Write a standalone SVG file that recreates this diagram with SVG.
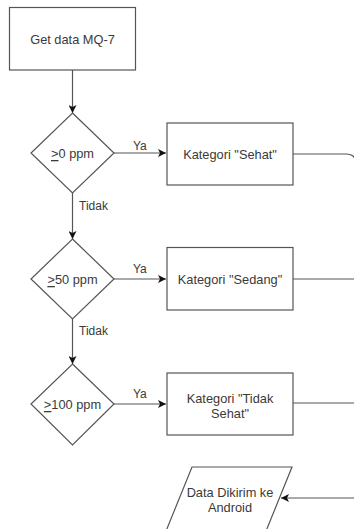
<svg xmlns="http://www.w3.org/2000/svg" width="354" height="529" viewBox="0 0 354 529">
<defs>
<style>
.shape{fill:#ffffff;stroke:#555555;stroke-width:1.2}
.conn{fill:none;stroke:#555555;stroke-width:1.2}
.t{font-family:"Liberation Sans",Arial,sans-serif;font-size:12.8px;fill:#3a3a3a;text-anchor:middle;dominant-baseline:central}
.lbl{font-family:"Liberation Sans",Arial,sans-serif;font-size:12px;fill:#3a3a3a;dominant-baseline:central}
.u{text-decoration:underline}
</style>
<marker id="arr" markerWidth="8" markerHeight="8" viewBox="0 0 8 8" refX="8" refY="4" orient="auto" markerUnits="userSpaceOnUse">
<path d="M0,0 L8,4 L0,8 L2,4 Z" fill="#111111"/>
</marker>
</defs>
<rect width="354" height="529" fill="#ffffff"/>
<g id="connectors">
<path class="conn" d="M72.5,70 V113" marker-end="url(#arr)"/>
<path class="conn" d="M114,153 H166" marker-end="url(#arr)"/>
<path class="conn" d="M72.5,193 V239" marker-end="url(#arr)"/>
<path class="conn" d="M114,279 H166" marker-end="url(#arr)"/>
<path class="conn" d="M72.5,319 V364" marker-end="url(#arr)"/>
<path class="conn" d="M114,404 H166" marker-end="url(#arr)"/>
<path class="conn" d="M293,154 H346 Q356,154 356,164 V498"/>
<path class="conn" d="M293,279 H356"/>
<path class="conn" d="M293,403 H356"/>
<path class="conn" d="M356,498 H281" marker-end="url(#arr)"/>
<text class="lbl" x="133" y="146">Ya</text>
<text class="lbl" x="79" y="206">Tidak</text>
<text class="lbl" x="133" y="269">Ya</text>
<text class="lbl" x="79" y="331">Tidak</text>
<text class="lbl" x="133" y="394">Ya</text>
</g>
<g id="start">
<rect class="shape" x="9.5" y="7.5" width="126" height="62.5"/>
<text class="t" x="72.5" y="39">Get data MQ-7</text>
</g>
<g id="d1">
<polygon class="shape" points="72.5,113 114,153 72.5,193 31,153"/>
<text class="t" x="72.5" y="153"><tspan class="u">&gt;</tspan>0 ppm</text>
</g>
<g id="sehat">
<rect class="shape" x="167" y="123" width="126" height="62"/>
<text class="t" x="230" y="154">Kategori "Sehat"</text>
</g>
<g id="d2">
<polygon class="shape" points="72.5,239 114,279 72.5,319 31,279"/>
<text class="t" x="72.5" y="279"><tspan class="u">&gt;</tspan>50 ppm</text>
</g>
<g id="sedang">
<rect class="shape" x="167" y="247.5" width="126" height="62.5"/>
<text class="t" x="230" y="279">Kategori "Sedang"</text>
</g>
<g id="d3">
<polygon class="shape" points="72.5,364 114,404 72.5,445 31,404"/>
<text class="t" x="72.5" y="404"><tspan class="u">&gt;</tspan>100 ppm</text>
</g>
<g id="tidaksehat">
<rect class="shape" x="167" y="373" width="126" height="62"/>
<text class="t" x="230" y="398">Kategori "Tidak</text>
<text class="t" x="230" y="413">Sehat"</text>
</g>
<g id="output">
<polygon class="shape" points="192,467 292,467 262,541 162,541"/>
<text class="t" x="230" y="492">Data Dikirim ke</text>
<text class="t" x="230" y="507">Android</text>
</g>
</svg>
